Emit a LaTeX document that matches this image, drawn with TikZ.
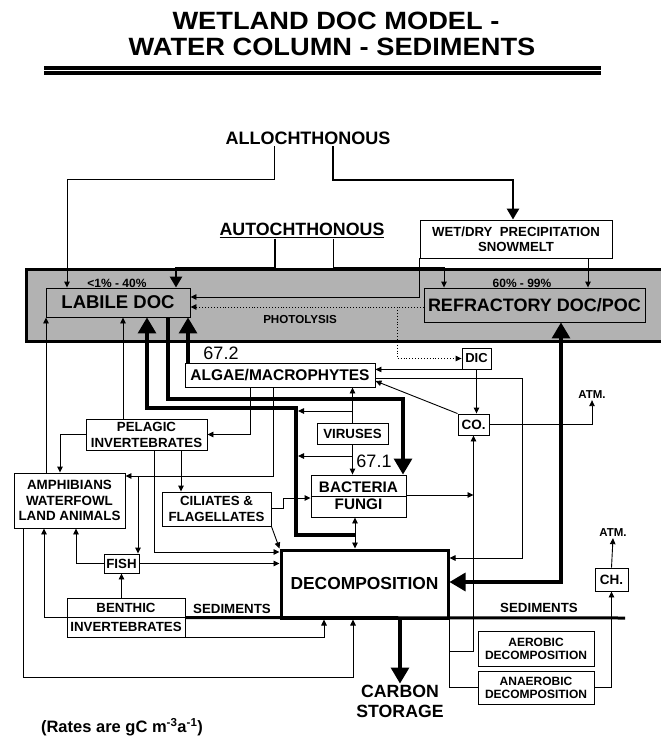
\documentclass[tikz,border=0pt]{standalone}
\usepackage{fontspec}
\setmainfont{Liberation Sans}
\usetikzlibrary{arrows.meta}
\newcommand\fsz[2]{\fontsize{#1}{#2}\selectfont}

\begin{document}
\begin{tikzpicture}[x=1pt,y=-1pt,>={Triangle[length=6pt,width=5.5pt]},
        every node/.style={font=\bfseries\fsz{13.3}{16}},
        box/.style={draw,line width=0.9pt,inner sep=0pt,align=center},
        lab/.style={inner sep=1pt,align=center},
        head/.style={inner sep=0pt,font=\bfseries\fsz{25}{25}\addfontfeature{FakeStretch=1.09}},
        flow/.style={->,line width=0.9pt},
        plain/.style={line width=0.9pt},
        flowboth/.style={<->,line width=0.9pt},
        dots/.style={->,line width=0.9pt,dotted},
        midflow/.style={line width=2.6pt,-{Triangle[length=11pt,width=12pt]}},
        bigflow/.style={line width=3.2pt,-{Triangle[length=16pt,width=18pt]}},
        bigboth/.style={line width=3.2pt,{Triangle[length=16pt,width=18pt]}-{Triangle[length=16pt,width=18pt]}}]

  \useasboundingbox (0,0) rectangle (661,736);

  % title
  \node[head] (title1) at (336,21) {WETLAND DOC MODEL -};
  \node[head] (title2) at (332,47) {WATER COLUMN - SEDIMENTS};
  \fill (44,66) rectangle (601,75);
  \draw[white,line width=0.7pt] (44,70.5) -- (601,70.5);

  % water column band
  \fill[black!30] (26,269) rectangle (661,341);
  \draw[line width=3pt] (661,269) -| (26,341) -- (661,341);

  % sources
  \node[lab,font=\bfseries\fsz{18}{20}] (alloch) at (308,138.5) {ALLOCHTHONOUS};
  \node[lab,font=\bfseries\fsz{17.8}{20}] (autoch) at (302,230) {\underline{AUTOCHTHONOUS}};
  \node[box,minimum width=192pt,minimum height=38pt,font=\bfseries\fsz{13.2}{15}] (wet)
        at (516,239) {WET/DRY\ \ PRECIPITATION\\SNOWMELT};

  % DOC pools
  \node[box,minimum width=144pt,minimum height=29pt,font=\bfseries\fsz{18.5}{20}] (labile)
        at (118,302.5) {LABILE DOC};
  \node[box,minimum width=221pt,minimum height=34pt,font=\bfseries\fsz{18}{20}] (refr)
        at (534.5,305) {REFRACTORY DOC/POC};
  \node[font=\bfseries\fsz{12}{12}] (pct1) at (117,283) {<1\% - 40\%};
  \node[font=\bfseries\fsz{12}{12}] (pct2) at (522,283) {60\% - 99\%};
  \node[font=\bfseries\fsz{11.6}{12}] (photo) at (300,320) {PHOTOLYSIS};

  % water column
  \node[box,minimum width=190pt,minimum height=24pt,font=\bfseries\fsz{15.5}{17}] (algae)
        at (280,375) {ALGAE/MACROPHYTES};
  \node[box,minimum width=29pt,minimum height=21pt,font=\bfseries\fsz{13}{15}] (dic)
        at (476.5,358.5) {DIC};
  \node[box,minimum width=31pt,minimum height=21pt,font=\bfseries\fsz{13.5}{15}] (co2)
        at (473.5,424.5) {CO.};
  \node[lab,font=\bfseries\fsz{11.5}{12}] (atm1) at (592,395) {ATM.};
  \node[box,minimum width=71pt,minimum height=21pt] (vir) at (352.5,433.5) {VIRUSES};
  \node[box,minimum width=95pt,minimum height=42pt,font=\bfseries\fsz{15.3}{17}] (bact)
        at (358.5,496) {BACTERIA\\FUNGI};
  \node[box,minimum width=121pt,minimum height=31pt] (pelag) at (146.5,434.5)
        {PELAGIC\\INVERTEBRATES};
  \node[box,minimum width=111pt,minimum height=55pt,font=\bfseries\fsz{13.4}{15.5}] (amph)
        at (69.5,500.5) {AMPHIBIANS\\WATERFOWL\\LAND ANIMALS};
  \node[box,minimum width=109pt,minimum height=34pt] (cil) at (216.5,509)
        {CILIATES \&\\FLAGELLATES};
  \node[box,minimum width=35pt,minimum height=19pt] (fish) at (121.5,563.5) {FISH};
  \node[lab,font=\mdseries\fsz{18}{20}] (r672) at (221,353) {67.2};
  \node[lab,font=\mdseries\fsz{18}{20}] (r671) at (374,461) {67.1};

  % sediments
  \node[box,minimum width=118pt,minimum height=39pt,font=\bfseries\fsz{13.3}{19}] (benth)
        at (126,617.5) {BENTHIC\\INVERTEBRATES};
  \node[box,line width=3pt,minimum width=167pt,minimum height=68pt,font=\bfseries\fsz{17.4}{20}]
        (decomp) at (364.5,584) {DECOMPOSITION};
  \node[lab] (sed1) at (232,609) {SEDIMENTS};
  \node[lab] (sed2) at (539,608) {SEDIMENTS};
  \node[box,minimum width=116pt,minimum height=35pt,font=\bfseries\fsz{12}{13}] (aer)
        at (536,648.5) {AEROBIC\\DECOMPOSITION};
  \node[box,minimum width=116pt,minimum height=33pt,font=\bfseries\fsz{12}{13}] (anaer)
        at (536,687.5) {ANAEROBIC\\DECOMPOSITION};
  \node[box,minimum width=33pt,minimum height=23pt,font=\bfseries\fsz{13.5}{15}] (ch4)
        at (611.5,579.5) {CH.};
  \node[lab,font=\bfseries\fsz{11.5}{12}] (atm2) at (613,533) {ATM.};
  \node[lab,font=\bfseries\fsz{17.7}{20}] (store) at (400,701) {CARBON\\STORAGE};
  \node[lab,font=\bfseries\fsz{16.5}{18}] (rates) at (122,727)
        {(Rates are gC m\textsuperscript{-3}a\textsuperscript{-1})};

  \coordinate (ph) at (397,307);
  \coordinate (jf) at (138,476);
  \coordinate (jb) at (355,535);
  \coordinate (jv1) at (298,411);
  \coordinate (jv2) at (298,456);
  \coordinate (sedend) at (625,618);

  \draw[line width=3pt] (benth.east) -- (sedend);
  \draw[plain] (bact.west) -- (bact.east);
  \draw[plain] (benth.west) -- (benth.east);

  % inputs
  \draw[flow] (alloch.south -| 274,0) |- (67,179) -- (labile.north -| 67,0);
  \draw[midflow] (alloch.south -| 333,0) |- (513,180) -- (wet.north -| 513,0);
  \draw[midflow] (autoch.south -| 275,0) |- (176,268) -- (labile.north -| 176,0);
  \draw[flow] (autoch.south -| 333,0) |- (444,267) -- (refr.north -| 444,0);
  \draw[flow] (wet.south -| 588,0) -- (refr.north -| 588,0);
  \draw[flow] (wet.south west) |- (labile.east |- 0,297);
  \draw[dots] (refr.west |- ph) -- (labile.east |- ph);
  \draw[dots] (ph) |- (dic.west);

  % water column flows
  \draw[bigflow] (algae.north -| 188,0) -- (labile.south -| 188,0);
  \draw[bigflow] (labile.south -| 168,0) |- (403,399) -- (bact.north -| 403,0);
  \draw[bigflow] (jb) -| (296,408) -| (labile.south -| 147,0);
  \draw[flowboth] (bact.south -| jb) -- (decomp.north -| jb);
  \draw[flow] (dic.south west) -- (algae.east |- dic.south west);
  \draw[flow] (algae.east |- 0,378) -| (522,558) -- (decomp.east |- 0,558);
  \draw[flow] (dic.south) -- (dic.south |- co2.north);
  \draw[flow] (co2.north west) -- (algae.east |- 0,381);
  \draw[flow] (co2.east) -| (atm1.south);
  \draw[flow] (vir.north) -- (vir.north |- algae.south);
  \draw[flow] (vir.north |- jv1) -- (jv1);
  \draw[flow] (vir.south) -- (vir.south |- bact.north);
  \draw[flow] (vir.south |- jv2) -- (jv2);
  \draw[flow] (cil.east |- 0,508) -| (283,498) -- (bact.west |- 0,498);
  \draw[flow] (bact.east |- 0,495) -- (co2.south |- 0,495);
  \draw[flow] (pelag.north -| 123,0) -- (labile.south -| 123,0);
  \draw[flow] (amph.north -| 46,0) -- (labile.south -| 46,0);
  \draw[flow] (algae.south -| 250,0) |- (pelag.east);
  \draw[flow] (algae.south -| 273,0) |- (amph.east |- jf);
  \draw[flow] (jf) -- (fish.north -| jf);
  \draw[flow] (pelag.west) -| (amph.north -| 60,0);
  \draw[flow] (pelag.south -| 181,0) -- (cil.north -| 181,0);
  \draw[flow] (pelag.south -| 154,0) |- (decomp.west |- 0,552);
  \draw[flow] (cil.south east) -- (decomp.north west);
  \draw[flow] (fish.east) -- (decomp.west |- fish.east);
  \draw[flow] (fish.west) -| (amph.south -| 76,0);

  % sediment flows
  \draw[flow] (benth.north -| fish.south) -- (fish.south);
  \draw[flow] (benth.west) -| (amph.south -| 44,0);
  \draw[flow] (benth.south east) -| (decomp.south -| 324,0);
  \draw[flow] (amph.south -| 23,0) |- (353,677) -- (decomp.south -| 353,0);
  \draw[bigflow] (decomp.south -| store.north) -- (store.north);
  \draw[bigboth] (decomp.east |- 0,582) -| (refr.south -| 561,0);
  \draw[plain] (decomp.south east) |- (anaer.west);
  \draw[flow] (decomp.south east |- 0,651) -| (co2.south);
  \draw[flow] (anaer.east) -| (ch4.south);
  \draw[flow] (ch4.north) -- (atm2.south);

\end{tikzpicture}
\end{document}
